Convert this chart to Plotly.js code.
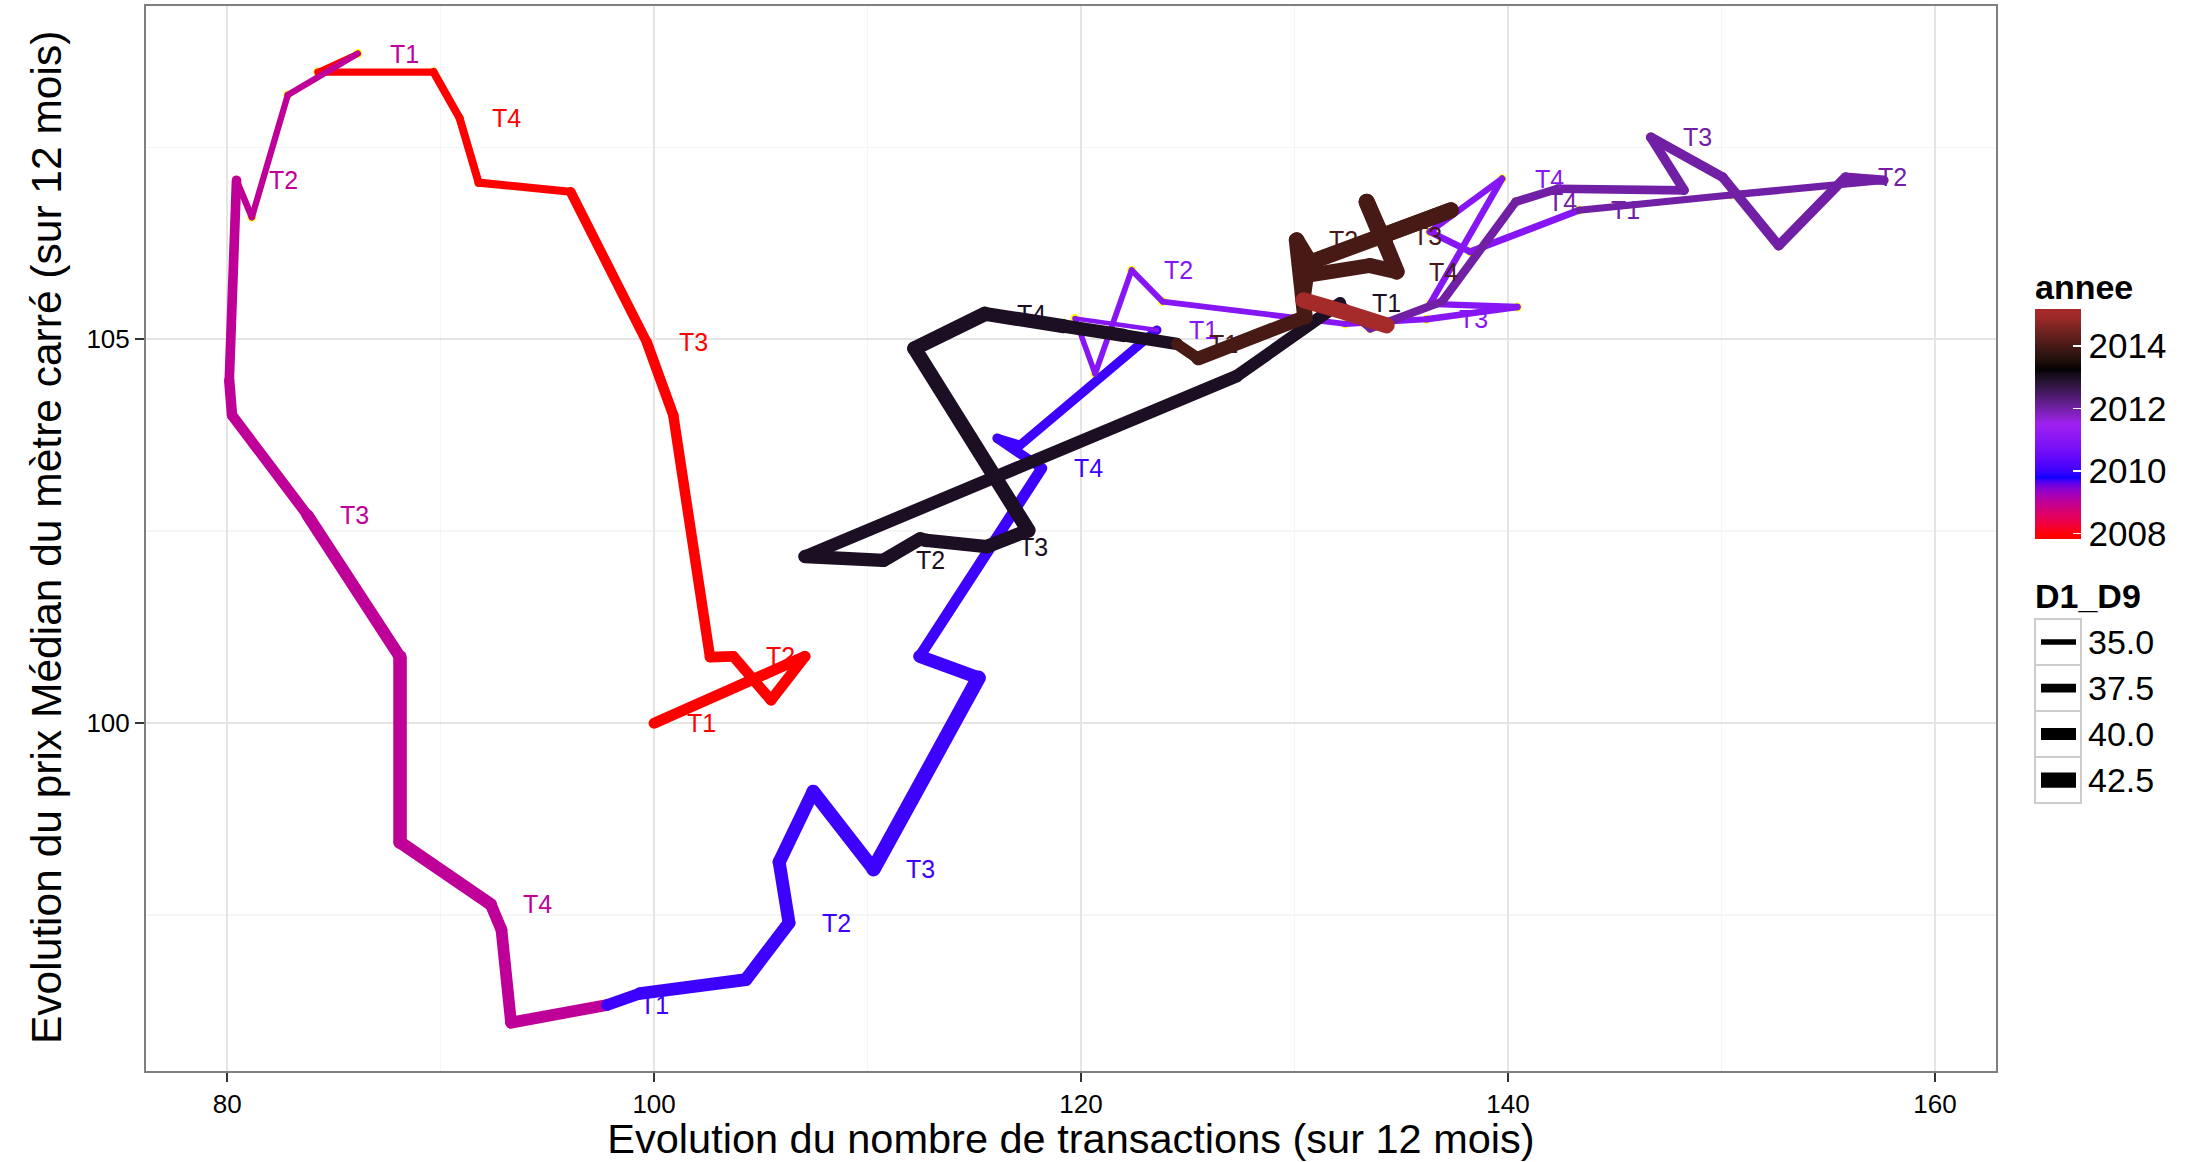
<!DOCTYPE html>
<html><head><meta charset="utf-8">
<script src="https://cdn.plot.ly/plotly-3.0.1.min.js"></script>
<style>
html,body{margin:0;padding:0;background:#fff;}
#chart{width:2193px;height:1162px;}
#chart path.js-line{stroke-linecap:round !important;stroke-linejoin:round !important;}
</style></head><body><div id="chart"></div>
<script>
// ---------------- data ----------------
const annee = [
 2008,2008,2008,2008,2008,2008,2008,2008,2008,2008,2008,2008,
 2009,2009,2009,2009,2009,2009,2009,2009,2009,2009,2009,2009,
 2010,2010,2010,2010,2010,2010,2010,2010,2010,2010,2010,2010,
 2011,2011,2011,2011,2011,2011,2011,2011,2011,2011,2011,2011,
 2012,2012,2012,2012,2012,2012,2012,2012,2012,2012,2012,2012,
 2013,2013,2013,2013,2013,2013,2013,2013,2013,2013,2013,2013,
 2014,2014,2014,2014,2014,2014,2014,2014,2014,2014,2014,2014,
 2015,2015,2015
];
const transactions = [
 100.00,107.07,105.48,103.71,102.62,100.90, 99.66, 96.09, 91.78, 90.89, 89.67, 84.25,
  86.12, 82.84, 81.16, 80.44, 80.10, 80.23, 83.76, 88.10, 88.10, 92.35, 92.85, 93.30,
  97.80, 99.34,104.30,106.32,105.86,107.45,110.28,115.20,112.44,118.16,116.08,117.14,
 123.55,119.72,120.66,122.37,123.82,132.37,136.19,140.44,136.35,139.72,136.34,138.23,
 143.32,150.44,157.61,155.81,152.68,150.06,146.69,148.25,142.33,140.36,136.91,133.55,
 132.13,127.29,107.07,110.74,112.46,112.77,115.58,117.53,112.20,115.50,119.20,122.00,
 124.48,125.49,130.49,130.10,130.73,137.33,134.05,133.38,134.24,134.79,133.54,130.57,
 130.41,132.40,134.32
];
const prixMedian = [
 100.00,100.87,100.30,100.87,100.86,104.01,104.96,106.92,107.04,107.88,108.48,108.48,
 108.72,108.18,106.59,107.07,104.46,104.01,102.71,100.86, 98.45, 97.64, 97.31, 96.10,
  96.33, 96.48, 96.66, 97.40, 98.19, 99.11, 98.10,100.59,100.87,103.32,103.71,103.62,
 105.12,105.27,104.55,105.90,105.49,105.20,105.26,105.42,105.46,107.09,106.40,106.14,
 106.68,106.88,107.07,107.11,106.22,107.11,107.63,106.94,106.96,106.79,105.49,105.14,
 105.47,104.52,102.17,102.12,102.40,102.38,102.30,102.51,104.88,105.33,105.17,105.05,
 104.94,104.75,105.29,106.29,106.00,106.68,106.34,106.79,106.25,105.88,105.96,105.83,
 105.51,105.35,105.18
];
const D1_D9 = [
 39.2,39.0,39.0,39.0,38.8,38.8,38.3,37.0,36.9,36.9,36.3,35.4,
 35.6,35.6,35.8,38.2,38.8,38.8,40.0,41.2,40.5,39.8,39.8,39.8,
 39.8,40.5,40.7,40.7,40.9,41.2,42.0,40.7,39.2,38.3,37.8,37.8,
 34.4,35.0,35.2,35.2,35.2,35.4,35.7,35.7,35.8,35.7,35.8,36.2,
 36.2,36.4,38.0,38.4,38.3,38.2,38.2,37.5,37.4,37.3,37.0,36.9,
 40.2,40.6,41.1,41.1,41.1,41.1,41.3,42.0,42.0,41.6,41.1,40.4,
 39.5,41.4,42.8,42.8,42.9,42.9,43.2,43.2,43.0,42.4,42.0,41.9,
 42.9,43.0,43.2
];
const quarterNames = ["T1","T2","T3","T4"];
const labelledYears = [2008,2009,2010,2011,2012,2013,2014];
const xTicks = [80,100,120,140,160];
const yTicks = [100,105];
const colorTicks = [2008,2010,2012,2014];
const sizeBreaks = [35,37.5,40,42.5];

// ---------------- scales ----------------
const FONT = '"Liberation Sans", Arial, Helvetica, sans-serif';
const anchorColours = ['#FF0000','#0000FF','#A020F0','#000000','#A52A2A']; // red, blue, purple, black, brown
const yearMin = 2008, yearMax = 2015;

function hex2rgb(h){return [parseInt(h.slice(1,3),16),parseInt(h.slice(3,5),16),parseInt(h.slice(5,7),16)];}
function toLin(c){c/=255;return c<=0.04045?c/12.92:Math.pow((c+0.055)/1.055,2.4);}
function fromLin(v){v=v<=0.0031308?12.92*v:1.055*Math.pow(v,1/2.4)-0.055;return Math.round(Math.max(0,Math.min(1,v))*255);}
function rgb2lab(rgb){
  const r=toLin(rgb[0]),g=toLin(rgb[1]),b=toLin(rgb[2]);
  const X=(0.4124564*r+0.3575761*g+0.1804375*b)/0.95047;
  const Y=(0.2126729*r+0.7151522*g+0.0721750*b);
  const Z=(0.0193339*r+0.1191920*g+0.9503041*b)/1.08883;
  const f=t=>t>0.008856?Math.cbrt(t):7.787*t+16/116;
  const fx=f(X),fy=f(Y),fz=f(Z);
  return [116*fy-16,500*(fx-fy),200*(fy-fz)];
}
function lab2rgb(lab){
  const fy=(lab[0]+16)/116, fx=fy+lab[1]/500, fz=fy-lab[2]/200;
  const inv=t=>{const t3=t*t*t;return t3>0.008856?t3:(t-16/116)/7.787;};
  const X=inv(fx)*0.95047,Y=inv(fy),Z=inv(fz)*1.08883;
  const r=3.2404542*X-1.5371385*Y-0.4985314*Z;
  const g=-0.9692660*X+1.8760108*Y+0.0415560*Z;
  const b=0.0556434*X-0.2040259*Y+1.0572252*Z;
  return [fromLin(r),fromLin(g),fromLin(b)];
}
const anchorLab = anchorColours.map(c=>rgb2lab(hex2rgb(c)));
function colourFor(v){
  let t=(v-yearMin)/(yearMax-yearMin); t=Math.max(0,Math.min(1,t));
  const n=anchorLab.length-1;
  let s=Math.min(n-1,Math.floor(t*n)); const f=t*n-s;
  const a=anchorLab[s],b=anchorLab[s+1];
  const rgb=lab2rgb([a[0]+(b[0]-a[0])*f,a[1]+(b[1]-a[1])*f,a[2]+(b[2]-a[2])*f]);
  return 'rgb('+rgb.join(',')+')';
}
function widthFor(d){ return Math.max(1, 5.5 + (d-35)*1.3); }

// ---------------- traces ----------------
const traces = [];
traces.push({type:'scatter',mode:'markers',x:transactions,y:prixMedian,
  marker:{color:'#FFFF00',size:9,line:{width:0}},hoverinfo:'skip',showlegend:false});
for(let i=0;i<transactions.length-1;i++){
  traces.push({type:'scatter',mode:'lines',
    x:[transactions[i],transactions[i+1]],y:[prixMedian[i],prixMedian[i+1]],
    line:{color:colourFor(annee[i]),width:widthFor(D1_D9[i])},
    hoverinfo:'skip',showlegend:false});
}
// colour bar
const W=2193,H=1162,L=146,R=197,T=6,B=91,pw=W-L-R,ph=H-T-B;
const PX=x=>(x-L)/pw, PY=y=>(H-B-y)/ph;
const cbMin = 2007.816, cbMax = 2015.184;
const cscale=[]; for(let k=0;k<=60;k++){const v=cbMin+(cbMax-cbMin)*k/60; cscale.push([k/60,colourFor(v)]);}
traces.push({type:'scatter',mode:'markers',x:[null,null],y:[null,null],
  marker:{color:[cbMin,cbMax],cmin:cbMin,cmax:cbMax,cauto:false,colorscale:cscale,showscale:true,size:0.1,
    colorbar:{x:PX(2035),xanchor:'left',xref:'paper',y:PY(424),yanchor:'middle',
      len:230,lenmode:'pixels',thickness:46,thicknessmode:'pixels',outlinewidth:0,xpad:0,ypad:0,
      tickvals:colorTicks,ticktext:colorTicks.map(String),ticks:'inside',ticklen:8,tickwidth:1.5,tickcolor:'#FFFFFF',
      tickfont:{family:FONT,size:35,color:'#000'},title:{text:''}}},
  hoverinfo:'skip',showlegend:false});

// ---------------- annotations: quarter labels ----------------
const annotations=[];
let monthIdx=0;
for(let i=0;i<transactions.length;i++){
  if(i>0 && annee[i]!==annee[i-1]) monthIdx=0;
  if(monthIdx%3===0 && labelledYears.indexOf(annee[i])>=0){
    annotations.push({x:transactions[i],y:prixMedian[i],xref:'x',yref:'y',text:quarterNames[monthIdx/3],
      showarrow:false,xanchor:'center',yanchor:'middle',xshift:47,
      font:{family:FONT,size:25,color:colourFor(annee[i])}});
  }
  monthIdx++;
}
// y axis title (placed like the reference)
annotations.push({xref:'paper',yref:'paper',x:PX(46),y:PY(538),xanchor:'center',yanchor:'middle',showarrow:false,
  textangle:-90,text:'Evolution du prix Médian du mètre carré (sur 12 mois)',font:{family:FONT,size:42.5,color:'#000'}});
// legend texts and keys
annotations.push({xref:'paper',yref:'paper',x:PX(2033),y:PY(287),xanchor:'left',yanchor:'middle',showarrow:false,
  text:'<b>annee</b>',font:{family:FONT,size:34,color:'#000'}});
annotations.push({xref:'paper',yref:'paper',x:PX(2033),y:PY(596),xanchor:'left',yanchor:'middle',showarrow:false,
  text:'<b>D1_D9</b>',font:{family:FONT,size:34,color:'#000'}});
const shapes=[];
const boxTop=619, boxH=46;
sizeBreaks.forEach((v,k)=>{
  const y0=boxTop+k*boxH, y1=y0+boxH, yc=(y0+y1)/2;
  shapes.push({type:'rect',xref:'paper',yref:'paper',x0:PX(2035),x1:PX(2081),y0:PY(y1),y1:PY(y0),
    line:{color:'#CCCCCC',width:2},fillcolor:'#FFFFFF',layer:'above'});
  shapes.push({type:'line',xref:'paper',yref:'paper',x0:PX(2041),x1:PX(2076),y0:PY(yc),y1:PY(yc),
    line:{color:'#000000',width:widthFor(v)},layer:'above'});
  annotations.push({xref:'paper',yref:'paper',x:PX(2086),y:PY(yc),xanchor:'left',yanchor:'middle',showarrow:false,
    text:v.toFixed(1),font:{family:FONT,size:34,color:'#000'}});
});

const layout={
  width:W,height:H,margin:{l:L,r:R,t:T,b:B,pad:0},
  paper_bgcolor:'#FFFFFF',plot_bgcolor:'#FFFFFF',showlegend:false,
  font:{family:FONT,color:'#000'},
  xaxis:{range:[76.2,162.86],tickmode:'array',tickvals:xTicks,ticktext:xTicks.map(String),
    showgrid:true,gridcolor:'#E5E5E5',gridwidth:1.5,zeroline:false,
    minor:{tickvals:[90,110,130,150],showgrid:true,gridcolor:'#F5F5F5',gridwidth:1.5,ticks:''},
    showline:true,mirror:true,linecolor:'#7F7F7F',linewidth:2,
    ticks:'outside',ticklen:9,tickwidth:2,tickcolor:'#333333',
    tickfont:{family:FONT,size:26,color:'#000'},
    title:{text:'Evolution du nombre de transactions (sur 12 mois)',font:{family:FONT,size:41.5,color:'#000'},standoff:3}},
  yaxis:{range:[95.47,109.34],tickmode:'array',tickvals:yTicks,ticktext:yTicks.map(String),
    showgrid:true,gridcolor:'#E5E5E5',gridwidth:1.5,zeroline:false,
    minor:{tickvals:[97.5,102.5,107.5],showgrid:true,gridcolor:'#F5F5F5',gridwidth:1.5,ticks:''},
    showline:true,mirror:true,linecolor:'#7F7F7F',linewidth:2,
    ticks:'outside',ticklen:9,tickwidth:2,tickcolor:'#333333',
    tickfont:{family:FONT,size:26,color:'#000'},title:{text:''}},
  annotations:annotations,shapes:shapes
};
Plotly.newPlot('chart',traces,layout,{displayModeBar:false,staticPlot:true});
</script></body></html>
